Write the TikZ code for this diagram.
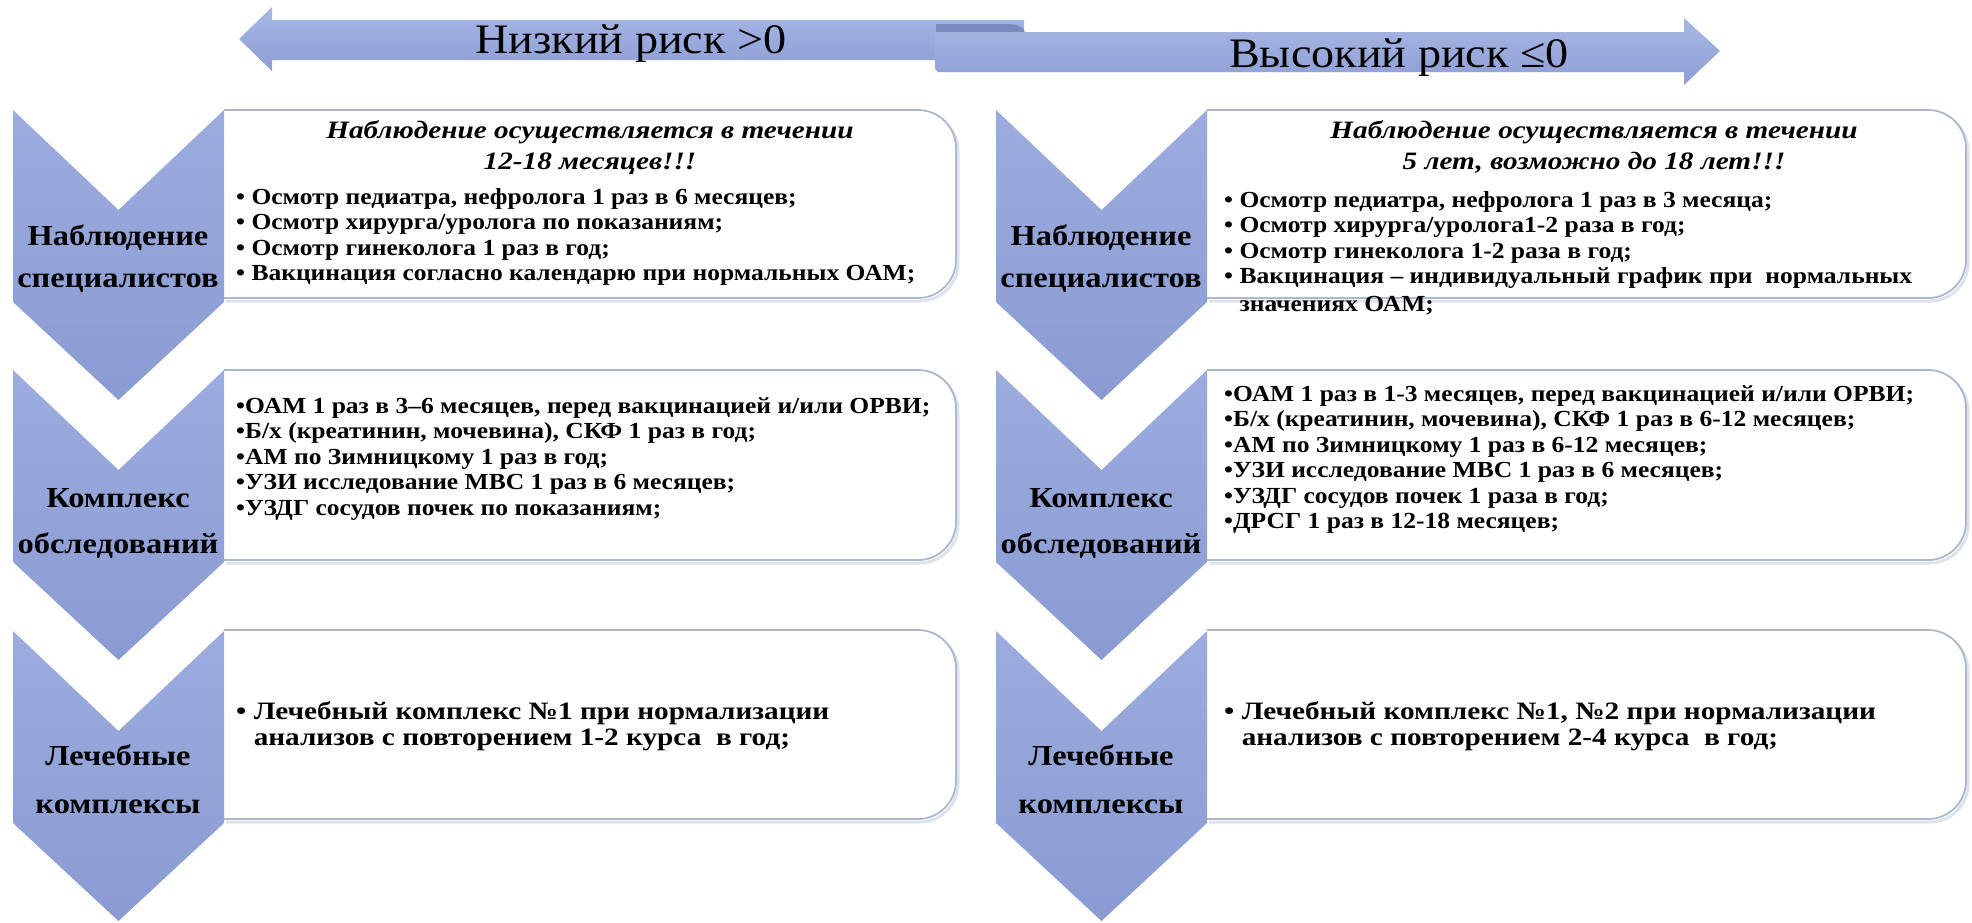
\documentclass[tikz,border=0pt]{standalone}
\usepackage{fontspec}
\usepackage{graphicx}
\setmainfont{Liberation Serif}
\newfontfamily\bodyfont[FakeStretch=1.11]{Liberation Serif}
\newfontfamily\bigbodyfont[FakeStretch=1.17]{Liberation Serif}
\newfontfamily\titlefont[FakeStretch=1.17]{Liberation Serif}
\newfontfamily\chevfont[FakeStretch=1.12]{Liberation Serif}
\newfontfamily\arrfont[FakeStretch=1.1]{Liberation Serif}
\definecolor{chevtop}{RGB}{156,172,223}
\definecolor{chevbot}{RGB}{137,155,210}
\definecolor{arrtop}{RGB}{168,183,228}
\definecolor{arrbot}{RGB}{140,158,213}
\definecolor{arrdark}{RGB}{122,138,192}
\definecolor{boxc}{RGB}{172,184,206}
\definecolor{shadowc}{RGB}{222,226,234}
\tikzset{
  chevsty/.style={top color=chevtop, bottom color=chevbot, draw=none},
  boxsty/.style={draw=boxc, line width=1.8pt, fill=white},
  boxshadow/.style={draw=shadowc, line width=3pt},
  arrsty/.style={top color=arrtop, bottom color=arrbot, draw=none},
  bodytxt/.style={anchor=base west, inner sep=0pt, font=\bodyfont\fontsize{23}{24}\selectfont\bfseries},
  bigtxt/.style={anchor=base west, inner sep=0pt, font=\bigbodyfont\fontsize{25}{26}\selectfont\bfseries},
  ttltxt/.style={anchor=base, inner sep=0pt, font=\titlefont\fontsize{25}{26}\selectfont\bfseries\itshape},
  chevtxt/.style={anchor=base, inner sep=0pt, font=\chevfont\fontsize{29}{30}\selectfont\bfseries},
  arrtxt/.style={anchor=base, inner sep=0pt, font=\arrfont\fontsize{42}{44}\selectfont},
}
\newcommand\DrawBoxR[4]{% L R T B
  \draw[boxshadow, shift={(2,3)}] (#1,#3) -- ({#2-38},#3) .. controls ({#2-17},#3) and (#2,{#3+17}) .. (#2,{#3+38}) -- (#2,{#4-38}) .. controls (#2,{#4-17}) and ({#2-17},#4) .. ({#2-38},#4) -- (#1,#4);
  \draw[boxsty] (#1,#3) -- ({#2-38},#3) .. controls ({#2-17},#3) and (#2,{#3+17}) .. (#2,{#3+38}) -- (#2,{#4-38}) .. controls (#2,{#4-17}) and ({#2-17},#4) .. ({#2-38},#4) -- (#1,#4);
}
\newcommand\DrawChevR[3]{% L R T
  \shade[chevsty] (#1,#3) -- ({(#1+#2)/2},{#3+100}) -- (#2,#3) -- (#2,{#3+192}) -- ({(#1+#2)/2},{#3+290}) -- (#1,{#3+192}) -- cycle;
}
\begin{document}
\begin{tikzpicture}[x=1pt,y=-1pt]
\useasboundingbox (0,0) rectangle (1972,922);
% top arrows
\shade[arrsty] (1024,20) -- (272,20) -- (272,7) -- (239,39) -- (272,71) -- (272,60) -- (1024,60) -- cycle;
\fill[arrdark] (936,24) -- (1006,24) .. controls (1019,24) and (1025,28) .. (1025,33) -- (936,33) -- cycle;
\shade[arrsty] (935,32) -- (1684,32) -- (1684,18) -- (1720,51) -- (1684,85) -- (1684,72) -- (938,72) -- (935,69) -- cycle;
\node[arrtxt] (lowrisk) at (631,53) {Низкий риск >0};
\node[arrtxt] (highrisk) at (1399,67) {Высокий риск ≤0};
% boxes
\DrawBoxR{224}{956}{110}{298}
\DrawBoxR{224}{956}{370}{560}
\DrawBoxR{224}{956}{630}{819}
\DrawBoxR{1207}{1966}{110}{298}
\DrawBoxR{1207}{1966}{370}{560}
\DrawBoxR{1207}{1966}{630}{819}
% chevrons
\DrawChevR{13}{224}{110}
\DrawChevR{13}{224}{370}
\DrawChevR{13}{224}{631}
\DrawChevR{996}{1207}{110}
\DrawChevR{996}{1207}{370}
\DrawChevR{996}{1207}{631}
% chevron labels
\node[chevtxt] (cl1a) at (118,245) {Наблюдение};
\node[chevtxt] (cl1b) at (118,287) {специалистов};
\node[chevtxt] (cl2a) at (118,507) {Комплекс};
\node[chevtxt] (cl2b) at (118,553) {обследований};
\node[chevtxt] (cl3a) at (118,765) {Лечебные};
\node[chevtxt] (cl3b) at (118,813) {комплексы};
\node[chevtxt] (cr1a) at (1101,245) {Наблюдение};
\node[chevtxt] (cr1b) at (1101,287) {специалистов};
\node[chevtxt] (cr2a) at (1101,507) {Комплекс};
\node[chevtxt] (cr2b) at (1101,553) {обследований};
\node[chevtxt] (cr3a) at (1101,765) {Лечебные};
\node[chevtxt] (cr3b) at (1101,813) {комплексы};
% left box 1
\node[ttltxt] (tl1) at (590,138) {Наблюдение осуществляется в течении};
\node[ttltxt] (tl2) at (590,169) {12-18 месяцев!!!};
\node[bodytxt] (l11) at (236,204) {• Осмотр педиатра, нефролога 1 раз в 6 месяцев;};
\node[bodytxt] (l12) at (236,229.5) {• Осмотр хирурга/уролога по показаниям;};
\node[bodytxt] (l13) at (236,255) {• Осмотр гинеколога 1 раз в год;};
\node[bodytxt] (l14) at (236,280.5) {• Вакцинация согласно календарю при нормальных ОАМ;};
% right box 1
\node[ttltxt] (tr1) at (1594,138) {Наблюдение осуществляется в течении};
\node[ttltxt] (tr2) at (1594,169) {5 лет, возможно до 18 лет!!!};
\node[bodytxt] (r11) at (1224,207) {• Осмотр педиатра, нефролога 1 раз в 3 месяца;};
\node[bodytxt] (r12) at (1224,232.5) {• Осмотр хирурга/уролога1-2 раза в год;};
\node[bodytxt] (r13) at (1224,258) {• Осмотр гинеколога 1-2 раза в год;};
\node[bodytxt] (r14) at (1224,283.5) {• Вакцинация – индивидуальный график при\ \ нормальных};
\node[bodytxt] (r15) at (1224,311) {\phantom{• }значениях ОАМ;};
% left box 2
\node[bodytxt] (l21) at (236,413) {•ОАМ 1 раз в 3–6 месяцев, перед вакцинацией и/или ОРВИ;};
\node[bodytxt] (l22) at (236,438.5) {•Б/х (креатинин, мочевина), СКФ 1 раз в год;};
\node[bodytxt] (l23) at (236,464) {•АМ по Зимницкому 1 раз в год;};
\node[bodytxt] (l24) at (236,489.5) {•УЗИ исследование МВС 1 раз в 6 месяцев;};
\node[bodytxt] (l25) at (236,515) {•УЗДГ сосудов почек по показаниям;};
% right box 2
\node[bodytxt] (r21) at (1224,401) {•ОАМ 1 раз в 1-3 месяцев, перед вакцинацией и/или ОРВИ;};
\node[bodytxt] (r22) at (1224,426.5) {•Б/х (креатинин, мочевина), СКФ 1 раз в 6-12 месяцев;};
\node[bodytxt] (r23) at (1224,452) {•АМ по Зимницкому 1 раз в 6-12 месяцев;};
\node[bodytxt] (r24) at (1224,477.5) {•УЗИ исследование МВС 1 раз в 6 месяцев;};
\node[bodytxt] (r25) at (1224,503) {•УЗДГ сосудов почек 1 раза в год;};
\node[bodytxt] (r26) at (1224,528.5) {•ДРСГ 1 раз в 12-18 месяцев;};
% box 3
\node[bigtxt] (l31) at (236,719) {• Лечебный комплекс №1 при нормализации};
\node[bigtxt] (l32) at (236,745) {\phantom{• }анализов с повторением 1-2 курса\ \ в год;};
\node[bigtxt] (r31) at (1224,719) {• Лечебный комплекс №1, №2 при нормализации};
\node[bigtxt] (r32) at (1224,745) {\phantom{• }анализов с повторением 2-4 курса\ \ в год;};
\end{tikzpicture}
\end{document}
